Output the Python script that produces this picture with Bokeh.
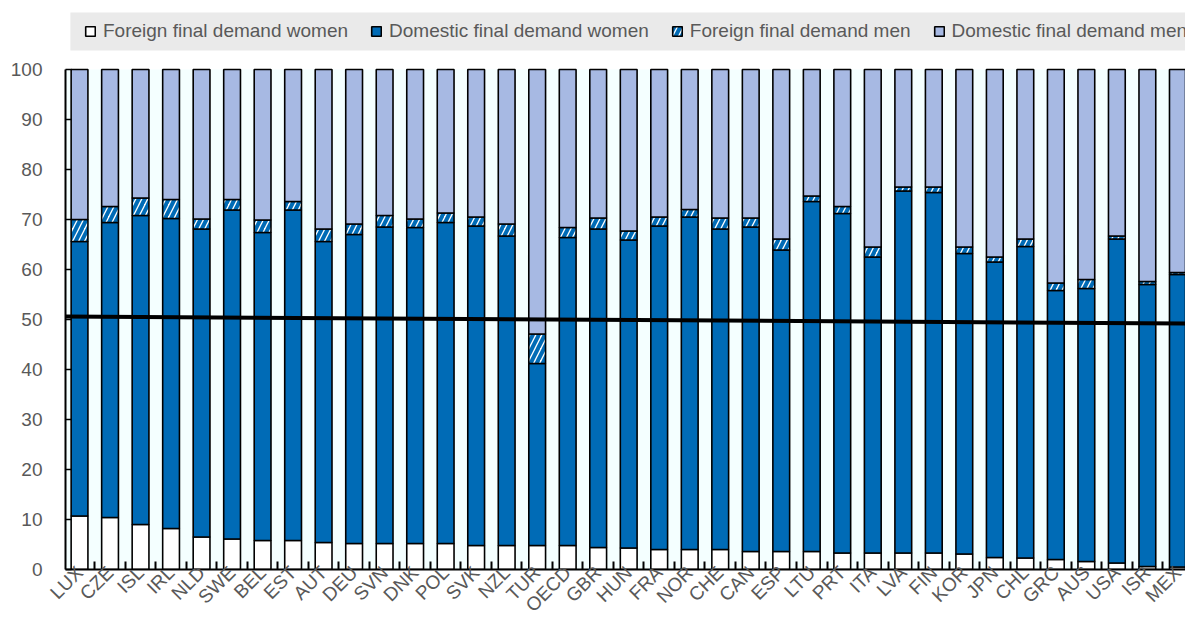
import math
from bokeh.plotting import figure
from bokeh.models import (ColumnDataSource, FixedTicker, Legend, LegendItem, Range1d,
                          BoxAnnotation)
from bokeh.embed import file_html
from bokeh.resources import INLINE

countries = ["LUX", "CZE", "ISL", "IRL", "NLD", "SWE", "BEL", "EST", "AUT", "DEU",
             "SVN", "DNK", "POL", "SVK", "NZL", "TUR", "OECD", "GBR", "HUN", "FRA",
             "NOR", "CHE", "CAN", "ESP", "LTU", "PRT", "ITA", "LVA", "FIN", "KOR",
             "JPN", "CHL", "GRC", "AUS", "USA", "ISR", "MEX"]

foreign_women = [10.7, 10.4, 9.0, 8.2, 6.5, 6.1, 5.8, 5.8, 5.4, 5.2,
                 5.2, 5.2, 5.2, 4.8, 4.8, 4.8, 4.8, 4.4, 4.3, 4.0,
                 4.0, 4.0, 3.6, 3.6, 3.6, 3.3, 3.3, 3.3, 3.3, 3.1,
                 2.4, 2.3, 2.0, 1.6, 1.3, 0.6, 0.5]
domestic_women = [54.9, 59.0, 61.8, 62.0, 61.6, 65.8, 61.6, 66.1, 60.2, 61.8,
                  63.3, 63.2, 64.2, 63.9, 61.9, 36.4, 61.6, 63.7, 61.6, 64.7,
                  66.5, 64.1, 64.9, 60.3, 70.0, 67.9, 59.2, 72.4, 72.1, 60.1,
                  59.1, 62.3, 53.8, 54.6, 64.8, 56.4, 58.5]
foreign_men = [4.4, 3.2, 3.5, 3.8, 2.0, 2.1, 2.5, 1.7, 2.5, 2.1,
               2.3, 1.7, 1.9, 1.8, 2.4, 5.9, 2.0, 2.2, 1.8, 1.8,
               1.5, 2.2, 1.8, 2.2, 1.1, 1.4, 2.0, 0.8, 1.1, 1.3,
               1.0, 1.5, 1.5, 1.8, 0.6, 0.6, 0.4]
domestic_men = [30.0, 27.4, 25.7, 26.0, 29.9, 26.0, 30.1, 26.4, 31.9, 30.9,
                29.2, 29.9, 28.7, 29.5, 30.9, 52.9, 31.6, 29.7, 32.3, 29.5,
                28.0, 29.7, 29.7, 33.9, 25.3, 27.4, 35.5, 23.5, 23.5, 35.5,
                37.5, 33.9, 42.7, 42.0, 33.3, 42.4, 40.6]
series_labels = ["Foreign final demand women", "Domestic final demand women",
                 "Foreign final demand men", "Domestic final demand men"]
line_values = [50.6, 49.2]  # thick reference line, at the left and right edge of the bars
y_ticks = list(range(0, 101, 10))

FONT = "Liberation Sans"
GREY = "#595959"
BLUE = "#006BB6"
LIGHT = "#A7B9E3"
FILLS = ["white", BLUE, "white", LIGHT]
HATCHES = [" ", " ", "/", " "]

FRAME_H = 565
Y_TOP = 113.0          # frame extends above 100 to host the legend strip
BAND = (103.8, 111.4)  # vertical extent of the grey legend strip (axis units)

xs = list(range(len(countries)))
src = ColumnDataSource(dict(x=xs, fw=foreign_women, dw=domestic_women,
                            fm=foreign_men, dm=domestic_men))

p = figure(frame_width=1120, frame_height=FRAME_H, output_backend="svg", toolbar_location=None,
           x_range=Range1d(-0.46, 36.25), y_range=Range1d(0, Y_TOP),
           min_border_left=65, min_border_right=0, min_border_top=4, min_border_bottom=20)

p.background_fill_color = "white"
p.border_fill_color = "white"
p.outline_line_color = None
p.grid.visible = False

# light plot-area background only between 0 and 100
p.add_layout(BoxAnnotation(bottom=0, top=100, fill_color="#F4FFFF", fill_alpha=1,
                           line_color=None, level="underlay"))

renderers = p.vbar_stack(["fw", "dw", "fm", "dm"], x="x", width=0.55, source=src,
                         fill_color=FILLS, line_color="black", line_width=1.6,
                         hatch_pattern=HATCHES, hatch_color=BLUE,
                         hatch_scale=12, hatch_weight=4)

p.line(x=[xs[0] - 0.5, xs[-1] + 0.5], y=line_values, line_color="black", line_width=4)

xa = p.xaxis[0]
xa.ticker = FixedTicker(ticks=xs, minor_ticks=[i - 0.5 for i in range(len(xs) + 1)])
xa.major_label_overrides = {i: c for i, c in enumerate(countries)}
xa.major_label_orientation = math.pi / 4
xa.major_tick_line_color = None
xa.major_tick_in = 0
xa.major_tick_out = 0
xa.minor_tick_in = 8
xa.minor_tick_out = 0
xa.minor_tick_line_color = "black"
xa.minor_tick_line_width = 2
xa.axis_line_width = 2
xa.axis_line_color = "black"
xa.major_label_text_font = FONT
xa.major_label_text_font_size = "19px"
xa.major_label_text_color = GREY
xa.major_label_standoff = 0

ya = p.yaxis[0]
ya.ticker = FixedTicker(ticks=y_ticks)
ya.bounds = (0, 100)
ya.major_tick_in = 6
ya.major_tick_out = 0
ya.major_tick_line_width = 1.5
ya.minor_tick_line_color = None
ya.axis_line_width = 2
ya.axis_line_color = "black"
ya.major_label_text_font = FONT
ya.major_label_text_font_size = "19px"
ya.major_label_text_color = GREY
ya.major_label_standoff = 23

# grey legend strip
p.add_layout(BoxAnnotation(left=-0.3, bottom=BAND[0], top=BAND[1], fill_color="#EAEAEA",
                           fill_alpha=1, line_color=None))

legend = Legend(items=[LegendItem(label=l, renderers=[r]) for l, r in zip(series_labels, renderers)],
                orientation="horizontal", location=(19, 527), margin=0, padding=8,
                spacing=22, glyph_width=12, glyph_height=12, label_standoff=7,
                label_text_font=FONT, label_text_font_size="19px", label_text_color=GREY,
                background_fill_alpha=0, border_line_color=None)
p.add_layout(legend, "center")

open("out.html", "w").write(file_html(p, INLINE))
